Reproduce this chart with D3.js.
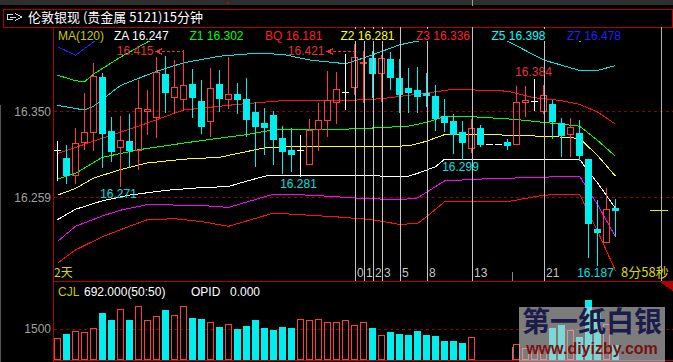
<!DOCTYPE html>
<html>
<head>
<meta charset="utf-8">
<script src="https://cdn.jsdelivr.net/npm/d3@7/dist/d3.min.js"></script>
<style>
  body { margin: 0; background: #000; overflow: hidden; }
  svg { display: block; }
  text { font-family: "Liberation Sans", Arial, sans-serif; }
  .cjk { font-family: "Noto Sans CJK SC", sans-serif; }
</style>
</head>
<body>
<div id="chart-area"></div>
<script>
const W = 673, H = 362

// 15 minute candles, oldest first
const opens  = [16.309,16.300,16.282,16.317,16.328,16.386,16.329,16.312,16.318,16.309,
                16.350,16.344,16.389,16.365,16.363,16.379,16.361,16.339,16.379,16.363,
                16.368,16.363,16.349,16.337,16.346,16.321,16.309,16.309,16.294,16.331,
                16.341,16.359,16.370,16.375,16.401,16.406,16.390,16.405,16.385,16.374,
                16.372,16.369,16.366,16.345,16.339,16.328,16.311,16.332,16.315,16.315,
                16.317,16.315,16.360,16.361,16.350,16.357,16.337,16.326,16.327,16.299,
                16.225,16.211,16.247]
const highs  = [16.318,16.314,16.332,16.369,16.401,16.390,16.344,16.345,16.347,16.383,
                16.372,16.407,16.408,16.404,16.415,16.394,16.383,16.395,16.393,16.407,
                16.380,16.385,16.359,16.353,16.350,16.334,16.332,16.325,16.342,16.358,
                16.392,16.391,16.410,16.421,16.414,16.414,16.409,16.412,16.405,16.395,
                16.397,16.390,16.378,16.363,16.347,16.339,16.342,16.335,16.315,16.315,
                16.320,16.376,16.376,16.384,16.377,16.362,16.343,16.343,16.341,16.299,
                16.256,16.268,16.257]
const lows   = [16.277,16.274,16.274,16.310,16.309,16.291,16.297,16.271,16.291,16.289,
                16.326,16.323,16.349,16.348,16.351,16.344,16.327,16.324,16.350,16.353,
                16.348,16.324,16.292,16.305,16.294,16.284,16.286,16.281,16.294,16.309,
                16.324,16.337,16.352,16.368,16.360,16.365,16.361,16.373,16.349,16.349,
                16.349,16.355,16.330,16.329,16.306,16.299,16.307,16.313,16.315,16.315,
                16.310,16.315,16.345,16.351,16.348,16.321,16.302,16.302,16.298,16.195,
                16.187,16.211,16.218]
const closes = [16.309,16.282,16.316,16.328,16.387,16.327,16.308,16.319,16.309,16.353,
                16.352,16.391,16.370,16.375,16.377,16.365,16.334,16.374,16.364,16.368,
                16.363,16.342,16.334,16.333,16.320,16.308,16.304,16.309,16.330,16.341,
                16.362,16.373,16.370,16.407,16.402,16.390,16.406,16.386,16.368,16.370,
                16.366,16.367,16.343,16.338,16.326,16.317,16.332,16.315,16.315,16.315,
                16.314,16.360,16.362,16.361,16.367,16.339,16.325,16.333,16.303,16.232,
                16.222,16.246,16.245]
const volumes = [1018,1230,1377,1328,1510,2262,1918,2444,1918,2607,
                 1903,2100,2410,2164,2592,2016,1967,1805,1574,1721,
                 1475,1623,1918,1525,1441,1574,1525,1952,1903,1952,
                 1820,1834,1903,1657,1805,1510,1166,1328,1230,1180,
                 1377,1180,1131,885,885,787,1067,0,0,0,
                 0,738,526,556,556,1510,1672,1426,1067,2902,
                 2277,1721,692]

// indicator lines: [bar index, value]
const lineZ7 = [[0,16.418],[2,16.409],[4,16.423],[6,16.438],[10,16.457],[14,16.467],[30,16.480],[45,16.482],[55,16.472],[62,16.478]]
const lineZ6 = [[0,16.388],[2,16.382],[3,16.381],[4,16.389],[7,16.407],[10,16.423],[13,16.435],[30,16.450],[50,16.445],[56,16.428],[58,16.424],[60,16.425],[62,16.430]]
const lineZ5 = [[0,16.356],[3,16.351],[4,16.355],[7,16.377],[11,16.392],[14,16.401],[18,16.408],[22,16.411],[25,16.410],[28,16.404],[32,16.400],[34,16.406],[38,16.420],[40,16.424],[43,16.425],[46,16.431],[49,16.428],[50,16.424],[54,16.404],[58,16.393],[60,16.393],[62,16.398]]
const lineZ3 = [[0,16.305],[4,16.318],[9,16.334],[14,16.351],[20,16.357],[25,16.361],[32,16.361],[36,16.363],[41,16.369],[44,16.373],[50,16.371],[53,16.364],[56,16.361],[58,16.357],[60,16.349],[62,16.336]]
const lineZ1 = [[0,16.278],[2,16.284],[5,16.301],[9,16.309],[14,16.316],[17,16.320],[21,16.325],[24,16.330],[30,16.330],[35,16.332],[39,16.334],[41,16.338],[43,16.344],[46,16.344],[51,16.341],[55,16.337],[58,16.334],[60,16.319],[62,16.302]]
const lineZ2 = [[0,16.261],[2,16.268],[4,16.279],[7,16.288],[10,16.295],[14,16.299],[18,16.301],[21,16.307],[23,16.311],[25,16.312],[39,16.313],[41,16.318],[43,16.325],[48,16.325],[55,16.323],[58,16.321],[60,16.303],[62,16.281]]
const lineZA = [[0,16.235],[2,16.246],[5,16.255],[8,16.261],[12,16.266],[16,16.269],[19,16.270],[20,16.273],[23,16.281],[24,16.282],[39,16.281],[40,16.284],[42,16.291],[43,16.299],[58,16.299],[59,16.286],[60,16.274],[62,16.247]]
const lineZ4 = [[0,16.212],[2,16.228],[5,16.239],[7,16.245],[10,16.251],[16,16.250],[19,16.248],[24,16.262],[28,16.261],[33,16.258],[38,16.256],[40,16.258],[43,16.276],[47,16.278],[54,16.280],[58,16.281],[60,16.251],[62,16.217]]
const lineBQ = [[0,16.189],[2,16.203],[5,16.217],[8,16.228],[10,16.235],[13,16.236],[16,16.233],[19,16.228],[24,16.242],[31,16.238],[35,16.235],[38,16.230],[40,16.231],[41,16.238],[43,16.254],[46,16.254],[50,16.254],[54,16.261],[58,16.262],[60,16.223],[62,16.181]]

const priceTicks = [16.350, 16.259]
const volTicks = [1500]
const fibStart = 33
const fibSteps = [0, 1, 2, 3, 5, 8, 13, 21]
const highMarks = [[14, 16.415, "arrow"], [33, 16.421, "arrow"], [53, 16.384, "above"]]
const lowMarks = [[7, 16.271], [27, 16.281], [45, 16.299], [60, 16.187]]

const UP = "#ff3c3c", DOWN = "#00eeee"

const svg = d3.select("#chart-area").append("svg")
  .attr("width", W).attr("height", H)
  .style("shape-rendering", "crispEdges")

svg.append("rect").attr("width", W).attr("height", H).attr("fill", "#000")

const N = opens.length
const x = d3.scaleBand().domain(d3.range(N)).range([53, 53 + 9 * N])
const xc = i => x(i) + 4.5
const y = d3.scaleLinear().domain([16.259, 16.350]).range([197, 111])
const yv = d3.scaleLinear().domain([0, 1500]).range([359, 328.5])
const ry = v => Math.round(y(v))

// top strip and title box
svg.append("rect").attr("x", 0).attr("y", 0).attr("width", W).attr("height", 5).attr("fill", "#2e2e2e")
svg.append("line").attr("x1", 472.5).attr("x2", 472.5).attr("y1", 0).attr("y2", 6).attr("stroke", "#9a9a9a")
svg.append("rect").attr("x", 227).attr("y", 2).attr("width", 2).attr("height", 2).attr("fill", "#c00000")
svg.append("rect").attr("x", 3.5).attr("y", 9.5).attr("width", 669).attr("height", 17.5)
  .attr("fill", "none").attr("stroke", "#b00000")
svg.append("path")
  .attr("d", "M13,14.5 H7.5 V19.5 H13 M10,17 H16 M15.5,13.5 L21.5,17 L15.5,20.5")
  .attr("fill", "none").attr("stroke", "#d8d8d8")
svg.append("text").attr("class", "cjk").attr("x", 28).attr("y", 22)
  .attr("fill", "#fff").style("font-size", "13px")
  .text("伦敦银现 (贵金属 5121)15分钟")

// frame
svg.append("line").attr("x1", 0.5).attr("x2", 0.5).attr("y1", 105).attr("y2", H).attr("stroke", "#555")
svg.append("line").attr("x1", 53.5).attr("x2", 53.5).attr("y1", 27).attr("y2", H).attr("stroke", "#b00000")
svg.append("line").attr("x1", 53).attr("x2", W).attr("y1", 281.5).attr("y2", 281.5).attr("stroke", "#b00000")
svg.append("line").attr("x1", 53).attr("x2", W).attr("y1", 360.5).attr("y2", 360.5).attr("stroke", "#b00000")
svg.append("path").attr("d", "M660,282 H673 V291 Z").attr("fill", "#b00000")

// price axis
priceTicks.forEach(t => {
  svg.append("text").attr("x", 51).attr("y", y(t) + 4.5).attr("text-anchor", "end")
    .attr("fill", "#a0a0a0").style("font-size", "12px").text(d3.format(".3f")(t))
  svg.append("line").attr("x1", 54).attr("x2", W).attr("y1", ry(t) + 0.5).attr("y2", ry(t) + 0.5)
    .attr("stroke", "#900000").attr("stroke-dasharray", "3,3")
})

const clip = svg.append("clipPath").attr("id", "plot")
clip.append("rect").attr("x", 54).attr("y", 41).attr("width", 607).attr("height", 240)
const plot = svg.append("g").attr("clip-path", "url(#plot)")

// fibonacci time lines
fibSteps.forEach(s => {
  const lx = x(fibStart + s) + 5.5
  svg.append("line").attr("x1", lx).attr("x2", lx).attr("y1", 27).attr("y2", 281)
    .attr("stroke", "#c4c4c4")
  svg.append("text").attr("x", lx + 1.5).attr("y", 277).attr("fill", "#c4c4c4")
    .style("font-size", "12px").text(s)
})
svg.append("line").attr("x1", 661.5).attr("x2", 661.5).attr("y1", 27).attr("y2", 281).attr("stroke", "#b4b4b4")
svg.append("line").attr("x1", 512.5).attr("x2", 512.5).attr("y1", 272).attr("y2", 281).attr("stroke", "#888")
svg.append("line").attr("x1", 512.5).attr("x2", 512.5).attr("y1", 347).attr("y2", 360).attr("stroke", "#888")

// legend, drawn on an opaque background like the terminal does
const legendNames = ["ZA", "Z1", "BQ", "Z2", "Z3", "Z5", "Z7"]
const legendLines = [lineZA, lineZ1, lineBQ, lineZ2, lineZ3, lineZ5, lineZ7]
const legendColors = ["#ffffff", "#00ff00", "#ff2020", "#ffff00", "#ff2020", "#00ffff", "#2020ff"]
const legend = svg.append("g")
function legendText(tx, label, color) {
  const bg = legend.append("rect").attr("fill", "#000")
  const t = legend.append("text").attr("x", tx).attr("y", 39.5).attr("fill", color)
    .style("font-size", "12px").text(label)
  const b = t.node().getBBox()
  bg.attr("x", b.x - 1).attr("y", 29).attr("width", b.width + 2).attr("height", 12)
}
legendText(58, "MA(120)", "#c8c800")
legendNames.forEach((n, k) => {
  const last = legendLines[k][legendLines[k].length - 1][1]
  legendText(114 + 75.5 * k, `${n} ${d3.format(".3f")(last)}`, legendColors[k])
})

// indicator lines
const line = d3.line().x(d => xc(d[0])).y(d => y(d[1]))
const series = [
  [lineZ7, "#2020ff"], [lineZ6, "#00ff00"], [lineZ5, "#00e8e8"], [lineZ3, "#ff1010"],
  [lineZ1, "#00ff00"], [lineZ2, "#ffff00"], [lineZA, "#ffffff"], [lineZ4, "#ff00ff"], [lineBQ, "#ff1010"]
]
series.forEach(([pts, c]) => {
  plot.append("path").attr("d", line(pts)).attr("fill", "none").attr("stroke", c).attr("stroke-width", 1)
})

// candles
d3.range(N).forEach(i => {
  const o = opens[i], c = closes[i], h = highs[i], l = lows[i]
  const cx = xc(i)
  if (o === c) {
    plot.append("line").attr("x1", cx).attr("x2", cx).attr("y1", ry(h)).attr("y2", ry(l) + 1).attr("stroke", "#fff")
    plot.append("line").attr("x1", x(i) + 1).attr("x2", x(i) + 8).attr("y1", ry(o) + 0.5).attr("y2", ry(o) + 0.5).attr("stroke", "#fff")
  } else if (c > o) {
    const top = ry(c), bot = ry(o)
    plot.append("line").attr("x1", cx).attr("x2", cx).attr("y1", ry(h)).attr("y2", top).attr("stroke", UP)
    plot.append("line").attr("x1", cx).attr("x2", cx).attr("y1", bot).attr("y2", ry(l) + 1).attr("stroke", UP)
    plot.append("rect").attr("x", x(i) + 1.5).attr("y", top + 0.5).attr("width", 6).attr("height", Math.max(1, bot - top))
      .attr("fill", "none").attr("stroke", UP)
  } else {
    const top = ry(o), bot = ry(c)
    plot.append("line").attr("x1", cx).attr("x2", cx).attr("y1", ry(h)).attr("y2", ry(l) + 1).attr("stroke", DOWN)
    plot.append("rect").attr("x", x(i) + 1).attr("y", top).attr("width", 7).attr("height", Math.max(2, bot - top + 1))
      .attr("fill", DOWN)
  }
})

// high / low marks
highMarks.forEach(([i, v, kind]) => {
  const cx = xc(i)
  if (kind === "arrow") {
    const ty = Math.max(y(v), 50.5)
    svg.append("text").attr("x", cx - 30).attr("y", ty + 4.5).attr("text-anchor", "end")
      .attr("fill", "#e83232").style("font-size", "12px").text(d3.format(".3f")(v))
    svg.append("path").attr("d", `M${cx - 21},${Math.round(ty) - 2.5} L${cx - 27},${Math.round(ty) + 0.5} L${cx - 21},${Math.round(ty) + 3.5}`)
      .attr("fill", "none").attr("stroke", "#e83232")
    svg.append("line").attr("x1", cx - 27).attr("x2", cx).attr("y1", Math.round(ty) + 0.5).attr("y2", Math.round(ty) + 0.5)
      .attr("stroke", "#e83232").attr("stroke-dasharray", "3,2")
  } else {
    svg.append("text").attr("x", cx - 1).attr("y", y(v) - 3).attr("text-anchor", "middle")
      .attr("fill", "#e83232").style("font-size", "12px").text(d3.format(".3f")(v))
  }
})
lowMarks.forEach(([i, v]) => {
  svg.append("text").attr("x", xc(i) - 2).attr("y", y(v) + 12).attr("text-anchor", "middle")
    .attr("fill", "#00e0e0").style("font-size", "12px").text(d3.format(".3f")(v))
})

// last price marker
const lastY = ry(closes[N - 1]) + 0.5
svg.append("line").attr("x1", 650).attr("x2", 668).attr("y1", lastY).attr("y2", lastY).attr("stroke", "#e6e600")

svg.append("text").attr("class", "cjk").attr("x", 54).attr("y", 276.5).attr("fill", "#d8d800")
  .style("font-size", "12px").text("2天")
svg.append("text").attr("class", "cjk").attr("x", 621).attr("y", 277).attr("fill", "#d8d800")
  .style("font-size", "13px").text("8分58秒")

// volume panel
svg.append("text").attr("x", 58).attr("y", 295.5).attr("fill", "#c8c800").style("font-size", "12px").text("CJL")
svg.append("text").attr("x", 84).attr("y", 295.5).attr("fill", "#fff").style("font-size", "12px")
  .text(`${d3.format(".3f")(volumes[N - 1])}(50:50)`)
svg.append("text").attr("x", 191).attr("y", 295.5).attr("fill", "#fff").style("font-size", "12px").text("OPID")
svg.append("text").attr("x", 230).attr("y", 295.5).attr("fill", "#fff").style("font-size", "12px").text("0.000")

volTicks.forEach(t => {
  svg.append("text").attr("x", 51).attr("y", yv(t) + 4.5).attr("text-anchor", "end")
    .attr("fill", "#a0a0a0").style("font-size", "12px").text(t)
  svg.append("line").attr("x1", 54).attr("x2", W).attr("y1", Math.round(yv(t)) + 0.5).attr("y2", Math.round(yv(t)) + 0.5)
    .attr("stroke", "#900000").attr("stroke-dasharray", "3,3")
})

volumes.forEach((v, i) => {
  if (v <= 0) return
  const top = Math.round(yv(v))
  if (closes[i] >= opens[i]) {
    svg.append("rect").attr("x", x(i) + 1.5).attr("y", top + 0.5).attr("width", 6).attr("height", 359 - top)
      .attr("fill", "none").attr("stroke", UP)
  } else {
    svg.append("rect").attr("x", x(i) + 1).attr("y", top).attr("width", 7).attr("height", 360 - top)
      .attr("fill", DOWN)
  }
})

// watermark
svg.append("rect").attr("x", 519).attr("y", 307).attr("width", 146).attr("height", 55)
  .attr("fill", "rgba(200,200,200,0.62)")
svg.append("text").attr("class", "cjk").attr("x", 592).attr("y", 332).attr("text-anchor", "middle")
  .attr("fill", "#1c1c4a").style("font-size", "28px").style("font-weight", "bold").text("第一纸白银")
svg.append("text").attr("x", 592).attr("y", 354).attr("text-anchor", "middle")
  .attr("fill", "#7a1010").style("font-size", "16px").style("font-weight", "bold").text("www.diyizby.com")
</script>
</body>
</html>
